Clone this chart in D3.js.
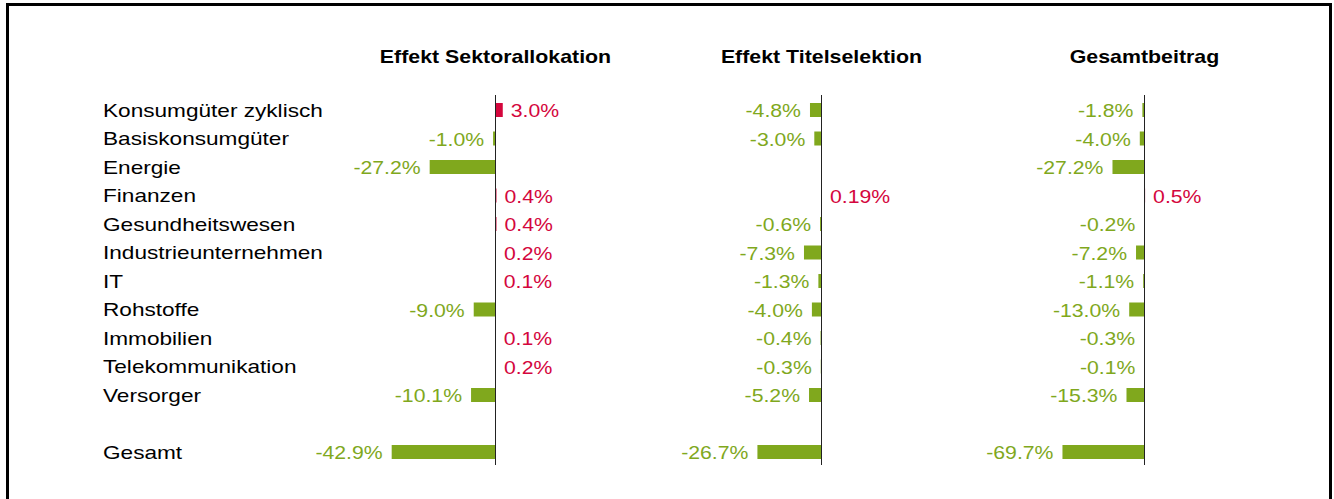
<!DOCTYPE html>
<html>
<head>
<meta charset="utf-8">
<script src="https://cdn.jsdelivr.net/npm/d3@7"></script>
<style>
  body { margin: 0; background: #fff; }
  svg { display: block; font-family: "Liberation Sans", Arial, sans-serif; }
</style>
</head>
<body>
<script>
var categories = ["Konsumgüter zyklisch", "Basiskonsumgüter", "Energie", "Finanzen",
    "Gesundheitswesen", "Industrieunternehmen", "IT", "Rohstoffe", "Immobilien",
    "Telekommunikation", "Versorger"];
var totalLabel = "Gesamt";
var panelTitles = ["Effekt Sektorallokation", "Effekt Titelselektion", "Gesamtbeitrag"];

var sektor = [3.0, -1.0, -27.2, 0.4, 0.4, 0.2, 0.1, -9.0, 0.1, 0.2, -10.1];
var titel = [-4.8, -3.0, null, 0.19, -0.6, -7.3, -1.3, -4.0, -0.4, -0.3, -5.2];
var gesamt = [-1.8, -4.0, -27.2, 0.5, -0.2, -7.2, -1.1, -13.0, -0.3, -0.1, -15.3];
var totals = [-42.9, -26.7, -69.7];

var width = 1334, height = 499;
var green = "#80a81d", red = "#d4063d";

var svg = d3.select("body").append("svg")
    .attr("width", width).attr("height", height);

// frame
svg.append("path")
    .attr("d", "M7.5,499 V4.5 H1330.5 V499")
    .attr("fill", "none").attr("stroke", "#000").attr("stroke-width", 3);

// rows: 11 sectors, one blank, then the total
var rowKeys = d3.range(13);
var y = d3.scalePoint().domain(rowKeys).range([110, 452]);
var barH = 14;

var panels = [
    { title: panelTitles[0], values: sektor, total: totals[0], x: d3.scaleLinear().domain([-50, 10]).range([495.5 - 50 * 2.42, 495.5 + 10 * 2.42]) },
    { title: panelTitles[1], values: titel, total: totals[1], x: d3.scaleLinear().domain([-50, 10]).range([821.5 - 50 * 2.4, 821.5 + 10 * 2.4]) },
    { title: panelTitles[2], values: gesamt, total: totals[2], x: d3.scaleLinear().domain([-80, 10]).range([1144.5 - 80 * 1.177, 1144.5 + 10 * 1.177]) }
];

function fmt(v) {
    return (Math.round(v * 10) === v * 10 ? v.toFixed(1) : v.toFixed(2)) + "%";
}

// the original text is drawn a bit wide
function wideText(g, x, yy, txt, sx) {
    return g.append("text")
        .attr("transform", "translate(" + x + "," + yy + ") scale(" + sx + ",1)")
        .text(txt);
}

// category labels
var catG = svg.append("g").attr("font-size", 19).attr("fill", "#000");
categories.forEach(function(c, i) {
    wideText(catG, 103, y(i), c, 1.19).attr("dy", "0.35em");
});
wideText(catG, 103, y(12), totalLabel, 1.19).attr("dy", "0.35em");

panels.forEach(function(p) {
    var g = svg.append("g");
    var x = p.x;
    var rows = p.values.map(function(v, i) { return { v: v, row: i }; })
        .concat([{ v: p.total, row: 12 }])
        .filter(function(d) { return d.v !== null; });

    wideText(g, x(0), 63, p.title, 1.22)
        .attr("text-anchor", "middle")
        .attr("font-weight", "bold")
        .attr("font-size", 17.5);

    g.selectAll("rect").data(rows).enter().append("rect")
        .attr("x", function(d) { return Math.min(x(d.v), x(0)); })
        .attr("width", function(d) { return Math.abs(x(d.v) - x(0)); })
        .attr("y", function(d) { return y(d.row) - barH / 2; })
        .attr("height", barH)
        .attr("fill", function(d) { return d.v < 0 ? green : red; });

    rows.forEach(function(d) {
        var neg = d.v < 0;
        wideText(g, neg ? x(d.v) - 9 : x(d.v) + 8, y(d.row) + 1, fmt(d.v), 1.18)
            .attr("dy", "0.35em")
            .attr("font-size", 18)
            .attr("text-anchor", neg ? "end" : "start")
            .attr("fill", neg ? green : red);
    });

    g.append("line")
        .attr("x1", x(0)).attr("x2", x(0))
        .attr("y1", 95).attr("y2", 465)
        .attr("stroke", "#222").attr("stroke-width", 1);
});
</script>
</body>
</html>
